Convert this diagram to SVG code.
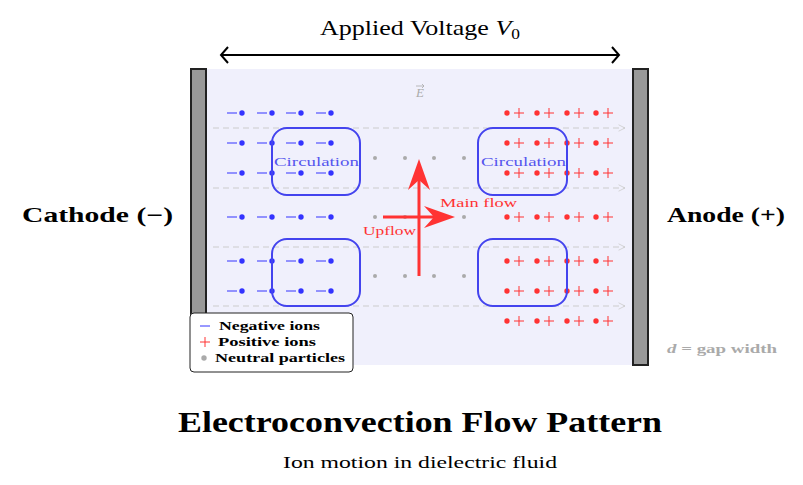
<svg xmlns="http://www.w3.org/2000/svg" width="803" height="485" viewBox="0 0 803 485">
<defs>
<style>
text{font-family:"Liberation Serif","DejaVu Serif",serif}
.neg{stroke:#3333ff;stroke-width:1}
.negd{fill:#3333ff}
.pos{stroke:#ff3333;stroke-width:1}
.posd{fill:#ff3333}
.neu{fill:#aaaaaa}
.dash{stroke:#cccccc;stroke-width:1;stroke-dasharray:6,4;fill:none}
.circ{fill:none;stroke:#4444ee;stroke-width:2}
.ctext{fill:#5555ee;font-size:13px}
</style>
<marker id="chev" viewBox="0 0 10 10" refX="9" refY="5" markerWidth="8" markerHeight="8" orient="auto" markerUnits="userSpaceOnUse"><path d="M1,1 L9,5 L1,9" fill="none" stroke="#cccccc" stroke-width="1"/></marker>
</defs>
<rect width="803" height="485" fill="#fff"/>
<rect x="206" y="69" width="426" height="296" fill="#f0f0fc"/>
<g id="cathode"><rect x="191" y="69" width="15" height="296" fill="#999" stroke="#222" stroke-width="2"/><text x="22" y="222" font-size="21" font-weight="bold" textLength="151" lengthAdjust="spacingAndGlyphs">Cathode (−)</text></g>
<g id="anode"><rect x="633" y="69" width="15" height="296" fill="#999" stroke="#222" stroke-width="2"/><text x="667" y="222" font-size="21" font-weight="bold" textLength="118" lengthAdjust="spacingAndGlyphs">Anode (+)</text></g>
<g id="voltage">
<text x="320" y="35" font-size="21" textLength="200" lengthAdjust="spacingAndGlyphs">Applied Voltage <tspan font-style="italic">V</tspan><tspan font-size="14" dy="4">0</tspan></text>
<line x1="221" y1="55" x2="619" y2="55" stroke="#000" stroke-width="2"/>
<path d="M228,47 L221,55 L228,63 M612,47 L619,55 L612,63" fill="none" stroke="#000" stroke-width="2"/>
</g>
<g id="efield"><text x="420" y="97" font-size="13" fill="#aaaaaa" font-style="italic" text-anchor="middle">E</text><path d="M416,86h8M422,84l2,2l-2,2" stroke="#aaaaaa" stroke-width="0.8" fill="none"/></g>
<g id="connectors">
<line class="dash" x1="213" y1="128" x2="625" y2="128" marker-end="url(#chev)"/>
<line class="dash" x1="213" y1="188" x2="625" y2="188" marker-end="url(#chev)"/>
<line class="dash" x1="213" y1="247" x2="625" y2="247" marker-end="url(#chev)"/>
<line class="dash" x1="213" y1="306" x2="625" y2="306" marker-end="url(#chev)"/>
</g>
<g id="neg-ions">
<g class="neg">
<path id="nr" d="M227,113h10M257,113h10M286,113h10M316,113h10"/>
<use href="#nr" y="30"/><use href="#nr" y="60"/><use href="#nr" y="104"/><use href="#nr" y="148"/><use href="#nr" y="178"/>
</g>
<g class="negd">
<g id="nd"><circle cx="242" cy="113" r="2.7"/><circle cx="272" cy="113" r="2.7"/><circle cx="301" cy="113" r="2.7"/><circle cx="331" cy="113" r="2.7"/></g>
<use href="#nd" y="30"/><use href="#nd" y="60"/><use href="#nd" y="104"/><use href="#nd" y="148"/><use href="#nd" y="178"/>
</g>
</g>
<g id="pos-ions">
<g class="pos">
<path id="pr" d="M514,113h10M519,108v10M544,113h10M549,108v10M574,113h10M579,108v10M603,113h10M608,108v10"/>
<use href="#pr" y="30"/><use href="#pr" y="60"/><use href="#pr" y="104"/><use href="#pr" y="148"/><use href="#pr" y="178"/><use href="#pr" y="208"/>
</g>
<g class="posd">
<g id="pd"><circle cx="507" cy="113" r="2.7"/><circle cx="537" cy="113" r="2.7"/><circle cx="567" cy="113" r="2.7"/><circle cx="596" cy="113" r="2.7"/></g>
<use href="#pd" y="30"/><use href="#pd" y="60"/><use href="#pd" y="104"/><use href="#pd" y="148"/><use href="#pd" y="178"/><use href="#pd" y="208"/>
</g>
</g>
<g id="neutral" class="neu">
<circle cx="375" cy="158" r="2"/><circle cx="405" cy="158" r="2"/><circle cx="434" cy="158" r="2"/><circle cx="464" cy="158" r="2"/>
<circle cx="375" cy="217" r="2"/><circle cx="405" cy="217" r="2"/><circle cx="434" cy="217" r="2"/><circle cx="464" cy="217" r="2"/>
<circle cx="375" cy="276" r="2"/><circle cx="405" cy="276" r="2"/><circle cx="434" cy="276" r="2"/><circle cx="464" cy="276" r="2"/>
</g>
<g id="circ-tl"><rect class="circ" x="272" y="128" width="88" height="67" rx="15"/><text class="ctext" x="274" y="166" textLength="85" lengthAdjust="spacingAndGlyphs">Circulation</text></g>
<g id="circ-bl"><rect class="circ" x="272" y="239" width="88" height="67" rx="15"/></g>
<g id="circ-tr"><rect class="circ" x="478" y="128" width="89" height="67" rx="15"/><text class="ctext" x="481" y="166" textLength="85" lengthAdjust="spacingAndGlyphs">Circulation</text></g>
<g id="circ-br"><rect class="circ" x="478" y="239" width="89" height="67" rx="15"/></g>
<g id="flow">
<line x1="383" y1="217" x2="440" y2="217" stroke="#ff3333" stroke-width="3"/>
<path d="M455,217 L424,206 L434,217 L424,228 Z" fill="#ff3333"/>
<line x1="419" y1="276" x2="419" y2="175" stroke="#ff3333" stroke-width="3"/>
<path d="M419,159 L408,190 L419,180 L430,190 Z" fill="#ff3333"/>
<text x="440" y="207" font-size="13" fill="#ff3333" textLength="77" lengthAdjust="spacingAndGlyphs">Main flow</text>
<text x="363" y="235" font-size="13" fill="#ff3333" textLength="53" lengthAdjust="spacingAndGlyphs">Upflow</text>
</g>
<g id="legend">
<rect x="190" y="313" width="163" height="59" rx="4" fill="#fff" stroke="#222" stroke-width="1"/>
<line x1="200" y1="326" x2="210" y2="326" stroke="#3333ff"/>
<path d="M200,342h10M205,337v10" stroke="#ff3333"/>
<circle cx="204" cy="358" r="2.7" fill="#aaaaaa"/>
<text x="219" y="330" font-size="12" font-weight="bold" textLength="101" lengthAdjust="spacingAndGlyphs">Negative ions</text>
<text x="218" y="346" font-size="12" font-weight="bold" textLength="98" lengthAdjust="spacingAndGlyphs">Positive ions</text>
<text x="215" y="362" font-size="12" font-weight="bold" textLength="130" lengthAdjust="spacingAndGlyphs">Neutral particles</text>
</g>
<text x="667" y="353" font-size="12" font-weight="bold" fill="#aaaaaa" textLength="110" lengthAdjust="spacingAndGlyphs"><tspan font-style="italic">d</tspan> = gap width</text>
<text x="178" y="432" font-size="29" font-weight="bold" textLength="484" lengthAdjust="spacingAndGlyphs">Electroconvection Flow Pattern</text>
<text x="283" y="468" font-size="17" textLength="274" lengthAdjust="spacingAndGlyphs">Ion motion in dielectric fluid</text>
</svg>
